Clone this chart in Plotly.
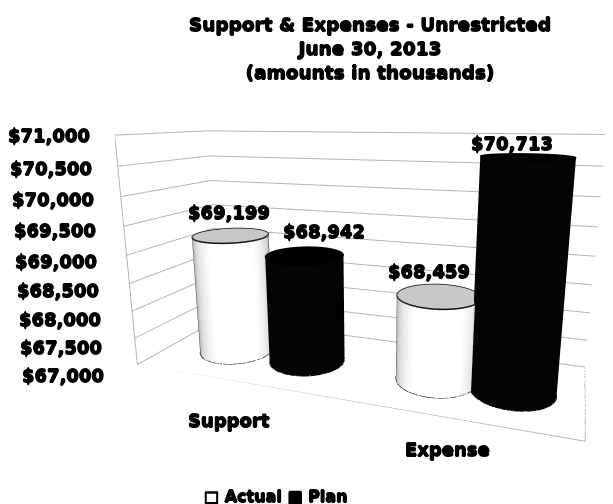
import numpy as np
import plotly.graph_objects as go

categories = ["Support", "Expense"]
actual = [69199, 68459]
plan = [68942, 70713]
tick_vals = [67000, 67500, 68000, 68500, 69000, 69500, 70000, 70500, 71000]
tick_text = ["$67,000", "$67,500", "$68,000", "$68,500", "$69,000", "$69,500", "$70,000", "$70,500", "$71,000"]
series_names = ["Actual", "Plan"]
title_lines = ["Support & Expenses - Unrestricted", "June 30, 2013", "(amounts in thousands)"]

# Scene geometry (camera and aspect, matched to the reference's perspective)
ax, ay, az = 1.870, 0.642, 1.0
eye = (0.842, -2.265, 0.581)
cen = (0.019, 0.006, -0.001)
up = (-0.115, 0.323, 1.0)
F, CX, CY = 589.625, 364.091, 255.991
X_POS = {(0, 0): 0.347, (0, 1): 0.738, (1, 0): 1.373, (1, 1): 1.708}
Y_C, R = 0.468, 0.167
BASE, TOP = 67000, 71000

h = 2 * F * np.tan(np.pi / 8)
w = 2 * min(CX - 8, 613 - CX)
dom_x = [max(0, (CX - w / 2 - 8) / 605), min(1, (CX + w / 2 - 8) / 605)]
dom_y = [max(0, 1 - (CY + h / 2 - 8) / 496), min(1, 1 - (CY - h / 2 - 8) / 496)]

FONT = "DejaVu Sans"
SH = "0.6px 0 0 #000,-0.6px 0 0 #000,0 0.6px 0 #000,0 -0.6px 0 #000"


def fnt(s):
    return dict(family=FONT, size=s, color="black", weight="bold", shadow=SH)


NOLIGHT = dict(ambient=1, diffuse=0, specular=0, roughness=1, fresnel=0)
white_scale = [[0, "#8c8c8c"], [0.5, "#8c8c8c"], [0.7, "#d4d4d4"], [0.92, "#ffffff"], [1, "#ffffff"]]
black_scale = [[0, "#000000"], [1, "#050505"]]


def cyl(xc, yc, val, top_c, scale, edge):
    t = np.linspace(0, 2 * np.pi, 121)
    rx = R / (ax / 2)
    ry = R / ay
    phi = np.arctan2(eye[1] - (yc - 0.5) * ay, eye[0] - (xc - 1) * ax / 2)
    T_, Z = np.meshgrid(t, np.array([BASE, val], float))
    tr = [go.Surface(x=xc + rx * np.cos(T_), y=yc + ry * np.sin(T_), z=Z, surfacecolor=np.cos(T_ - phi),
                     colorscale=scale, cmin=-1, cmax=1, showscale=False, hoverinfo="skip", lighting=NOLIGHT)]
    RR, T2 = np.meshgrid(np.array([0, 1.0]), t)
    tr.append(go.Surface(x=xc + rx * RR * np.cos(T2), y=yc + ry * RR * np.sin(T2),
                         z=np.full(RR.shape, float(val)), surfacecolor=np.zeros(RR.shape),
                         colorscale=[[0, top_c], [1, top_c]], showscale=False, hoverinfo="skip", lighting=NOLIGHT))
    for z in (BASE, val):
        tr.append(go.Scatter3d(x=xc + rx * np.cos(t), y=yc + ry * np.sin(t), z=np.full(t.shape, float(z)),
                               mode="lines", line=dict(color=edge, width=3), hoverinfo="skip"))
    for a in (phi - np.pi / 2, phi + np.pi / 2):
        tr.append(go.Scatter3d(x=[xc + rx * np.cos(a)] * 2, y=[yc + ry * np.sin(a)] * 2, z=[BASE, val],
                               mode="lines", line=dict(color=edge, width=1.5), hoverinfo="skip"))
    return tr


fig = go.Figure()
series = [(actual, "#c8c8c8", white_scale, "#111111"), (plan, "#000000", black_scale, "#000000")]
ann = []
lab_off = [[(-2, 23), (19, 24)], [(-10, 25), (-15, 13)]]
cat_off = [(1, -40), (-2, -31)]
for i, cat in enumerate(categories):
    for s, (vals, tc, sc, ec) in enumerate(series):
        xc = X_POS[(i, s)]
        for tr in cyl(xc, Y_C, vals[i], tc, sc, ec):
            fig.add_trace(tr)
        ann.append(dict(x=xc, y=Y_C, z=vals[i], text=f"${vals[i]:,}", showarrow=False,
                        xshift=lab_off[i][s][0], yshift=lab_off[i][s][1], font=fnt(18)))
    ann.append(dict(x=i + 0.5, y=0, z=BASE, text=cat, showarrow=False,
                    xshift=cat_off[i][0], yshift=cat_off[i][1], font=fnt(18)))
for v, t in zip(tick_vals, tick_text):
    k = (70500 - v) / 3500
    ann.append(dict(x=0, y=0, z=v, text=t, showarrow=False, xanchor="right",
                    xshift=-27 + 3 - 8 * k, yshift=-2 - 9 * k, font=fnt(18)))

fx = [0, 2, 2, 0, 0, 0, 0]
fy = [0, 0, 1, 1, 0, 0, 1]
fz = [BASE, BASE, BASE, BASE, BASE, TOP, TOP]
fig.add_trace(go.Scatter3d(x=fx, y=fy, z=fz, mode="lines", line=dict(color="#b3b3b3", width=2), hoverinfo="skip"))

hidden = dict(title="", showticklabels=False, showgrid=False, zeroline=False, showbackground=True,
              backgroundcolor="white", showline=False, ticks="", showspikes=False)
fig.update_layout(
    width=605, height=496, showlegend=False, paper_bgcolor="white", margin=dict(l=0, r=0, t=0, b=0),
    title=dict(text="<br>".join(title_lines), x=(370 - 8) / 605, xanchor="center",
               y=1 - (31 - 8) / 496, yanchor="top", font=fnt(18.5)),
    scene=dict(
        aspectmode="manual", aspectratio=dict(x=ax, y=ay, z=az), domain=dict(x=dom_x, y=dom_y), annotations=ann,
        xaxis=dict(range=[0, 2], **hidden),
        yaxis=dict(range=[0, 1], **hidden),
        zaxis=dict(title="", range=[BASE, TOP], tickvals=tick_vals, showticklabels=False, showgrid=True,
                   gridcolor="#b3b3b3", gridwidth=2, zeroline=False, showbackground=True, backgroundcolor="white",
                   showline=False, ticks="", showspikes=False),
        camera=dict(eye=dict(x=eye[0], y=eye[1], z=eye[2]), center=dict(x=cen[0], y=cen[1], z=cen[2]),
                    up=dict(x=up[0], y=up[1], z=up[2]), projection=dict(type="perspective")),
    ),
    annotations=[dict(text=f"\u25a1 {series_names[0]} \u25a0 {series_names[1]}", x=(276 - 8) / 605,
                      y=1 - (496 - 8) / 496, yanchor="middle", xref="paper", yref="paper",
                      showarrow=False, font=fnt(16))],
)
fig.write_html("out.html")
